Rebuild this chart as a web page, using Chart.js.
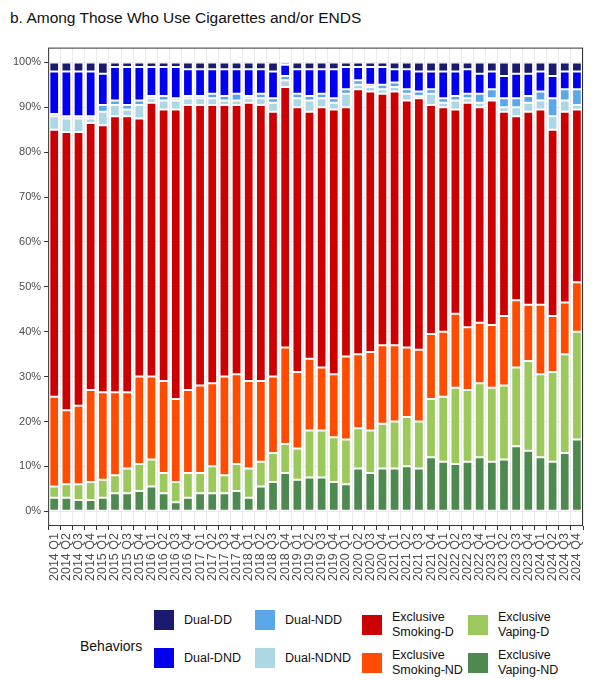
<!DOCTYPE html>
<html><head><meta charset="utf-8">
<script src="https://cdn.jsdelivr.net/npm/chart.js@4"></script>
<style>
body{margin:0;background:#fff;font-family:"Liberation Sans",Arial,sans-serif;}
#title{position:absolute;left:10px;top:9px;font-size:15.5px;color:#111;}
#wrap{position:absolute;left:0;top:38px;width:597px;height:546px;}
#legend{position:absolute;left:80px;top:610px;font-size:12.5px;color:#111;white-space:nowrap;}
.t{position:absolute;left:0;top:28px;font-size:14px;}
.it{position:absolute;display:flex;align-items:center;}
.sw{width:20px;height:20px;margin-right:10px;flex:none;}
</style></head><body>
<div id="title">b. Among Those Who Use Cigarettes and/or ENDS</div>
<div id="wrap"><canvas id="c"></canvas></div>
<div id="legend"></div>
<script>
const categories=[];
for(let y=2014;y<=2024;y++)for(let q=1;q<=4;q++)categories.push(y+" Q"+q);
const exclusiveVapingND=[3,3,2.5,2.5,3,4,4,4.5,5.5,4,2,3,4,4,4,4.5,3,5.5,6.5,8.5,7,7.5,7.5,6.5,6,9.5,8.5,9.5,9.5,10,9.5,12,11,10.5,11,12,11,11.5,14.5,13.5,12,11,13,16];
const exclusiveVapingD=[2.5,3,3.5,4,4,4,5.5,6,6,4.5,4.5,5.5,4.5,6,4,6,6.5,5.5,6.5,6.5,7,10.5,10.5,10,10,9,9.5,10,10.5,11,10.5,13,14.5,17,16,16.5,16.5,16.5,17.5,20,18.5,20,22,24];
const exclusiveSmokingND=[20,16.5,17.5,20.5,19.5,18.5,17,19.5,18.5,20.5,18.5,18.5,19.5,18.5,22,20,19.5,18,17,21.5,17,16,14,14,18.5,16.5,17.5,17.5,17,15.5,16,14.5,14.5,16.5,14,13.5,14,15.5,15,12.5,15.5,12.5,11.5,11];
const exclusiveSmokingD=[59.5,62,61,59.5,59.5,61.5,61.5,57.5,61,60.5,64.5,63.5,62.5,62,60.5,60,62,61.5,59,58,59,55,58,59,55.5,59,58,56,56.5,55,56,51,50,45.5,50,48,50,45.5,41,43,43.5,41.5,42.5,38.5];
const dualNDND=[3,3,3,1,3,2.5,1.5,3,1,2,2,1.5,1.5,1.5,1,1,1,1.5,2,1.5,2,2.5,2,1.5,3,1,1,1,1,1.5,0.5,2.5,1,2,1,1,0.5,1,2,2,2,3,2.5,1];
const dualNDD=[0.5,0.5,0.5,0.5,1.5,1,1,1,0.5,1,0.5,0.5,0.5,1,1,1.5,0.5,1,1,1,1,1,1,1,1,1,0.5,1,1,1,1,1,1,1,1,2,2,2,2,1.5,2,4,2.5,3.5];
const dualDND=[9.5,10,10,10,7,7.5,8.5,7.5,6.5,6.5,7,6,6,5.5,6,5.5,6,5.5,6,2.5,5.5,6,5.5,6.5,5,3,4,4,3,4.5,4.5,4,6,5.5,5.5,4.5,4,5,5.5,5,4.5,5,4,4];
const dualDD=[2,2,2,2,2.5,1,1,1,1,1,1,1.5,1.5,1.5,1.5,1.5,1.5,1.5,2,0.5,1.5,1.5,1.5,1.5,1,1,1,1,1.5,1.5,2,2,2,2,1.5,2.5,2,3,2.5,2.5,2,3,2,2];
const yTicks=[0,10,20,30,40,50,60,70,80,90,100];

const series=[
 ["Exclusive Vaping-ND",exclusiveVapingND,"#4e8a50"],
 ["Exclusive Vaping-D",exclusiveVapingD,"#9cc95c"],
 ["Exclusive Smoking-ND",exclusiveSmokingND,"#ff4c00"],
 ["Exclusive Smoking-D",exclusiveSmokingD,"#cc0000"],
 ["Dual-NDND",dualNDND,"#acd8e6"],
 ["Dual-NDD",dualNDD,"#5aa8ea"],
 ["Dual-DND",dualDND,"#0000ee"],
 ["Dual-DD",dualDD,"#1a1a6e"]
];
const panel={id:'panel',afterDraw(ch){const a=ch.chartArea,c=ch.ctx;c.save();c.strokeStyle='#333';c.lineWidth=1;c.strokeRect(a.left+0.5,a.top+0.5,a.width-1,a.height-1);c.restore();}};
new Chart(document.getElementById('c'),{type:'bar',
 data:{labels:categories,datasets:series.map(s=>({label:s[0],data:s[1],backgroundColor:s[2],borderColor:'#fff',borderWidth:1,borderSkipped:false,barPercentage:0.8,categoryPercentage:1}))},
 options:{responsive:true,maintainAspectRatio:false,animation:false,
  layout:{padding:{left:10,right:14,top:0,bottom:0}},
  plugins:{legend:{display:false},tooltip:{enabled:false}},
  scales:{
   x:{stacked:true,offset:true,grid:{color:'#ebebeb',tickColor:'#333',tickLength:4},border:{display:false},
      ticks:{color:'#4d4d4d',font:{size:12.5,family:'Liberation Sans'},maxRotation:90,minRotation:90,autoSkip:false}},
   y:{stacked:true,min:-3.3,max:103.3,border:{display:false},
      afterBuildTicks(ax){const t=[];for(let v=0;v<=100;v+=5)t.push({value:v});ax.ticks=t;},
      grid:{color:c=>c.tick&&c.tick.value%10===0?'#ebebeb':'#f5f5f5',tickColor:c=>c.tick&&c.tick.value%10===0?'#333':'rgba(0,0,0,0)',tickLength:4},
      ticks:{color:'#4d4d4d',font:{size:11,family:'Liberation Sans'},callback:v=>yTicks.includes(v)?v+'%':''}}
  }},plugins:[panel]});
const L=document.getElementById('legend');
L.innerHTML='<div class="t">Behaviors</div>';
const pos=[["Dual-DD",0,0],["Dual-DND",0,1],["Dual-NDD",1,0],["Dual-NDND",1,1],["Exclusive Smoking-D",2,0],["Exclusive Smoking-ND",2,1],["Exclusive Vaping-D",3,0],["Exclusive Vaping-ND",3,1]];
const cols=[74,175,282,388];
pos.forEach(p=>{const s=series.find(x=>x[0]===p[0]);const d=document.createElement('div');d.className='it';
 d.style.left=cols[p[1]]+'px';d.style.top=(p[2]*38)+'px';
 const txt=p[0].startsWith('Exclusive')?p[0].replace(' ','<br>'):p[0];
 d.innerHTML='<div class="sw" style="background:'+s[2]+'"></div><div style="line-height:15px">'+txt+'</div>';L.appendChild(d);});
</script></body></html>
